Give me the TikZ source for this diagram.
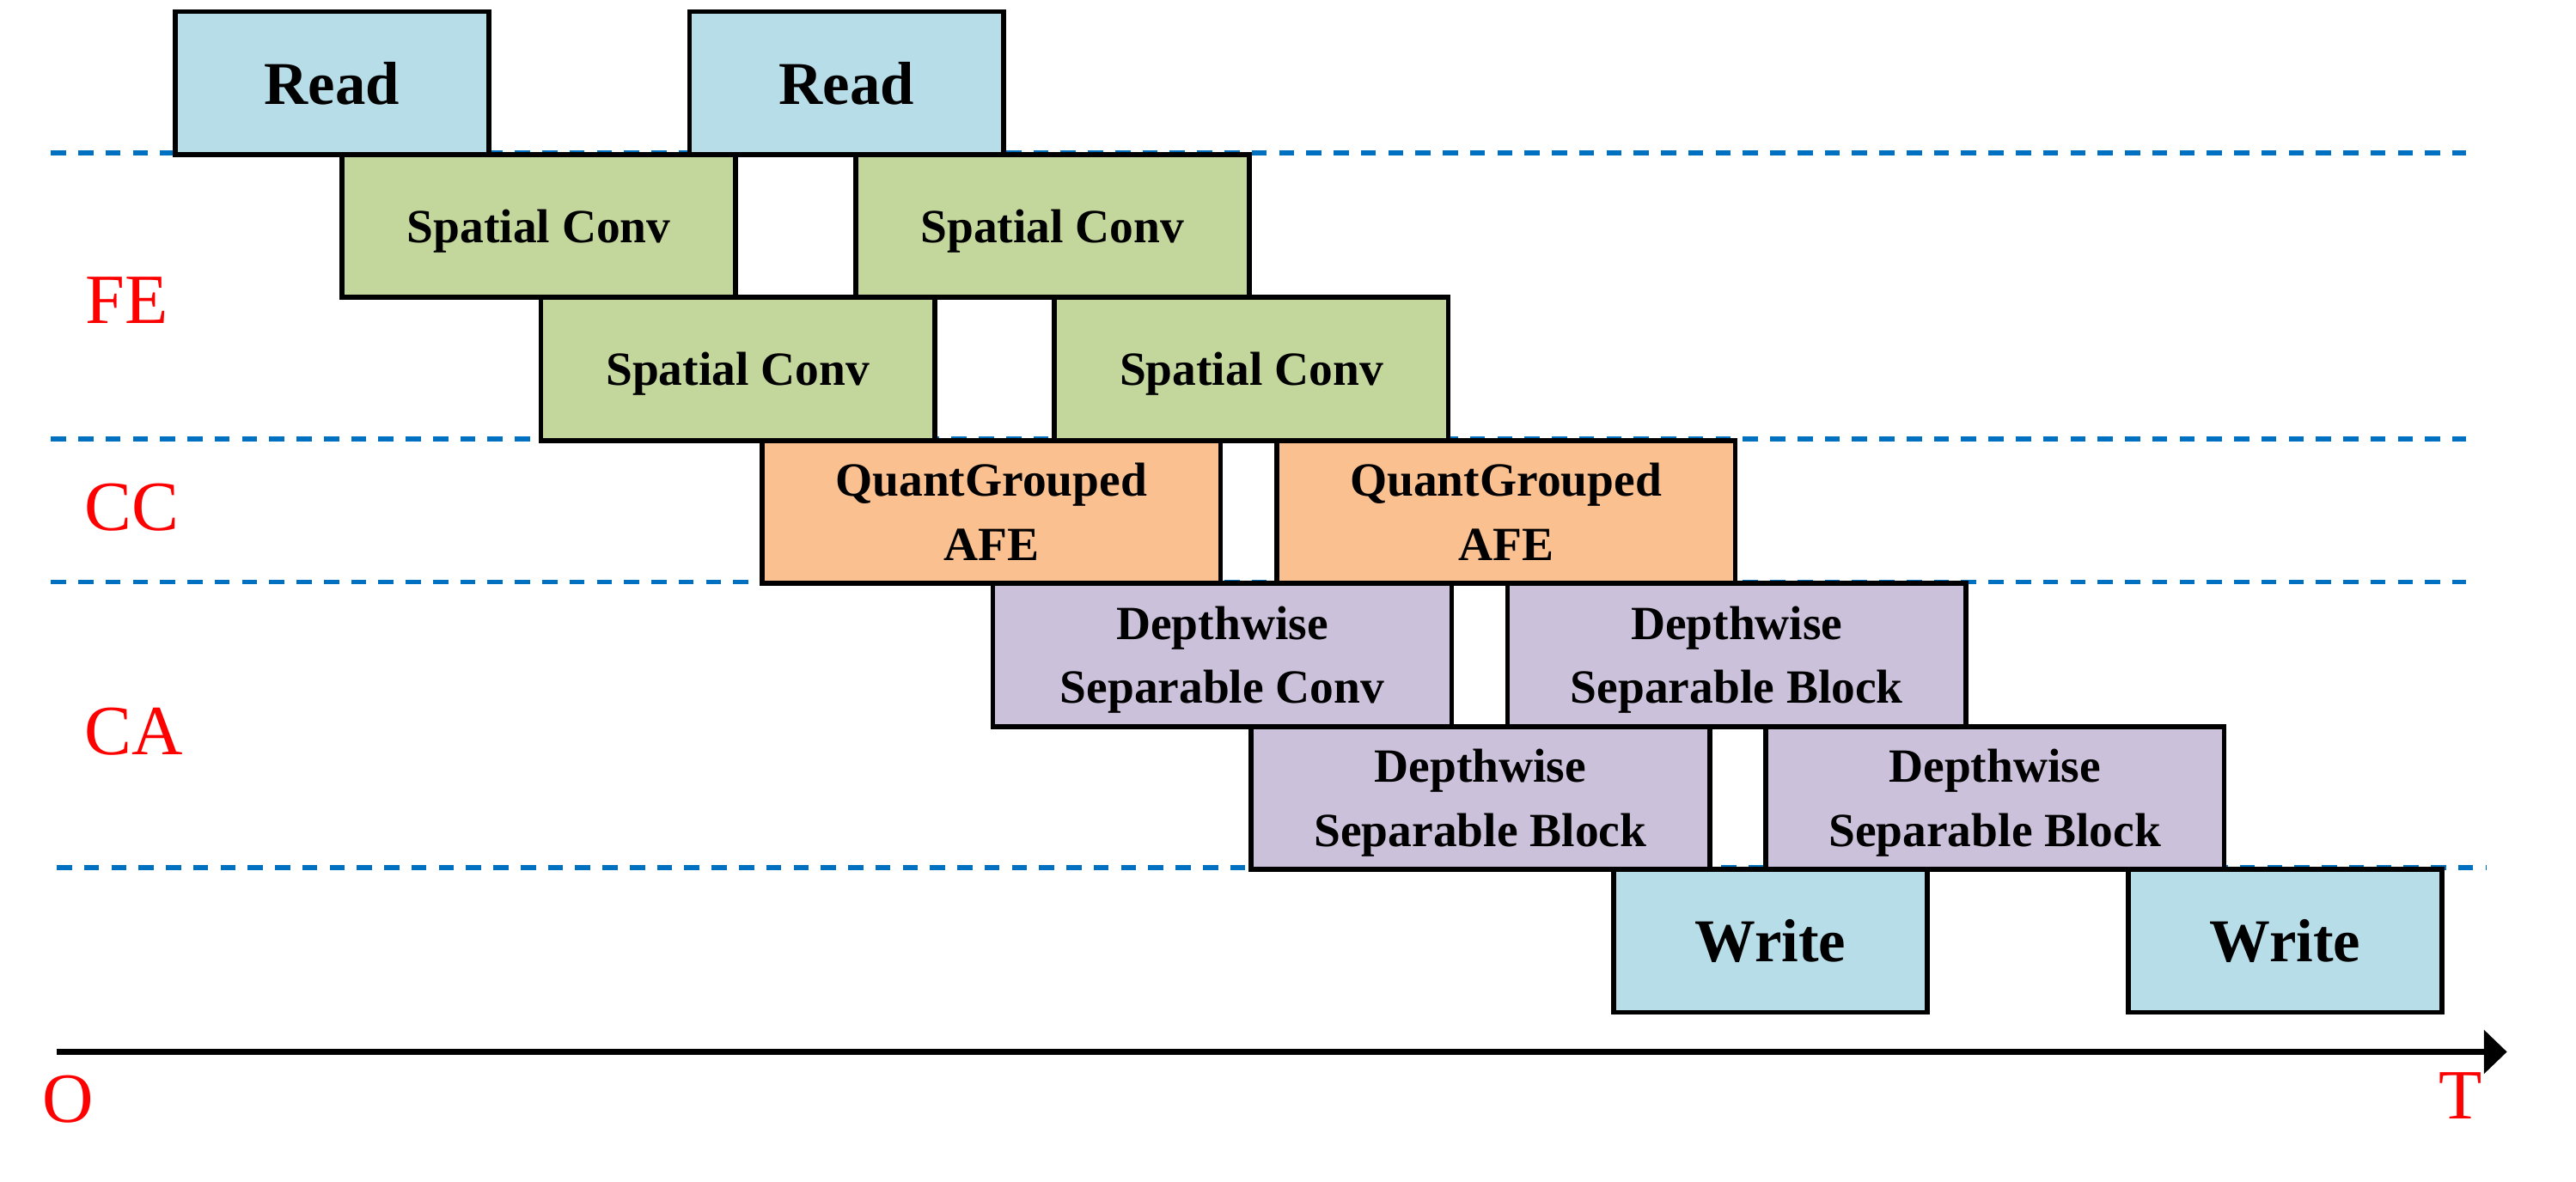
\documentclass[tikz,border=0pt]{standalone}
\usepackage{fontspec}
\setmainfont{Liberation Serif}
\usetikzlibrary{arrows.meta}
\definecolor{iocol}{HTML}{B7DDE8}
\definecolor{fecol}{HTML}{C3D69B}
\definecolor{cccol}{HTML}{FAC090}
\definecolor{cacol}{HTML}{CCC1DA}
\definecolor{sepcol}{HTML}{0070C0}
\begin{document}
\begin{tikzpicture}[x=0.5pt,y=-0.5pt,
    blk/.style={draw, line width=1.5pt, inner sep=0pt, anchor=north west, minimum height=43.5pt,
        text depth=0pt, align=center, font=\bfseries\fontsize{14.5}{19.5}\selectfont},
    io/.style={blk, fill=iocol, minimum width=95.5pt, font=\bfseries\fontsize{18.5}{22}\selectfont},
    fe/.style={blk, fill=fecol, minimum width=119.75pt},
    cc/.style={blk, fill=cccol, minimum width=139.5pt},
    ca/.style={blk, fill=cacol, minimum width=139.5pt},
    sep/.style={sepcol, line width=1.45pt, dash pattern=on 4.6pt off 3.7pt},
    lbl/.style={red, anchor=base, font=\fontsize{21.5}{24}\selectfont}]
            \useasboundingbox (0,0) rectangle (1567,719);

            \foreach \y/\i/\s/\e in {93/1/31/1500,267/2/31/1500,354/3/31/1500,528/4/34.5/1512}{
                \coordinate (l\i a) at (\s,\y);
                \coordinate (l\i b) at (\e,\y);
                \draw[sep] (l\i a) -- (l\i b);
            }

            \foreach \x/\i in {105/1,418/2}{
                \node[io] (rd\i) at (\x,5.5) {Read};
                \node[io] (wr\i) at (\x+875,527.5) {Write};
            }
            \foreach \x/\i in {206.5/1,519/2}{
                \node[fe] (sa\i) at (\x,92.5) {Spatial Conv};
                \node[fe] (sb\i) at (\x+121,179.5) {Spatial Conv};
            }
            \foreach \x/\i in {462/1,775/2}{
                \node[cc] (qg\i) at (\x,266.5) {QuantGrouped\\AFE};
            }
            \foreach \x/\i/\t in {602.5/1/Conv,915.5/2/Block}{
                \node[ca] (da\i) at (\x,353.5) {Depthwise\\Separable \t};
                \node[ca] (db\i) at (\x+157,440.5) {Depthwise\\Separable Block};
            }

            \node[lbl] (fe) at (77,197) {FE};
            \node[lbl] (cc) at (80,323) {CC};
            \node[lbl] (ca) at (81.5,459) {CA};
            \node[lbl] (o) at (41.5,683) {O};
            \node[lbl] (t) at (1497,681) {T};

            \coordinate (ax0) at (34.5,640);
            \coordinate (ax1) at (1525,640);
            \draw[line width=2pt, -{Triangle[length=7pt,width=13pt]}] (ax0) -- (ax1);
        \end{tikzpicture}
\end{document}
